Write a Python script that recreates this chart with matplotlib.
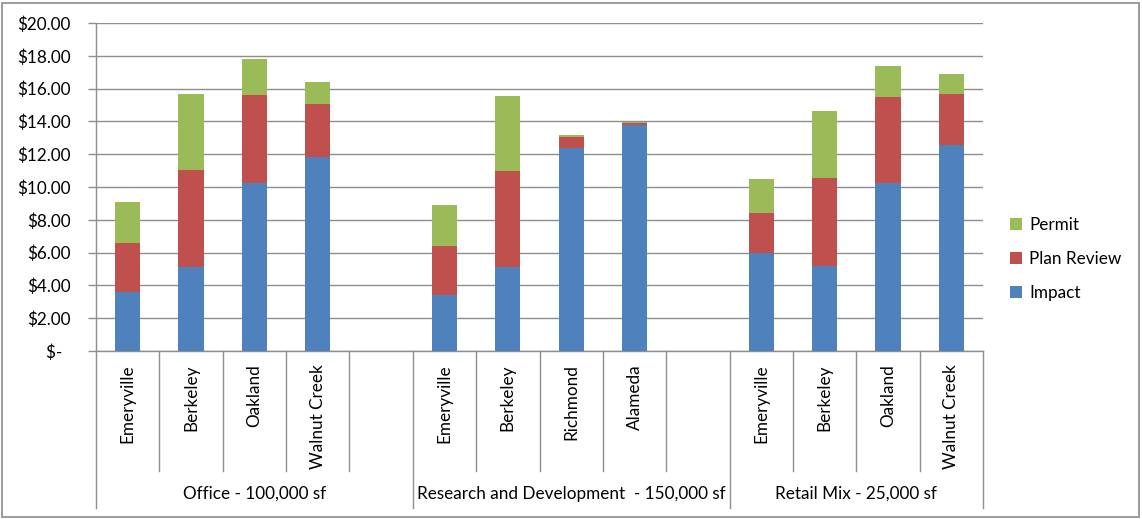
import numpy as np
import matplotlib
matplotlib.use("Agg")
import matplotlib.pyplot as plt
from matplotlib.patches import Rectangle, Patch
from matplotlib.ticker import FuncFormatter, MultipleLocator

plt.rcParams["font.family"] = ["Lato", "DejaVu Sans"]

# Development fee components ($ per square foot) by project type and city
groups = ["Office - 100,000 sf",
          "Research and Development  - 150,000 sf",
          "Retail Mix - 25,000 sf"]
office_cities = ["Emeryville", "Berkeley", "Oakland", "Walnut Creek"]
rd_cities = ["Emeryville", "Berkeley", "Richmond", "Alameda"]
retail_cities = ["Emeryville", "Berkeley", "Oakland", "Walnut Creek"]

office_impact = [3.60, 5.12, 10.24, 11.83]
office_plan = [3.00, 5.93, 5.39, 3.21]
office_permit = [2.50, 4.60, 2.19, 1.36]

rd_impact = [3.41, 5.12, 12.40, 13.76]
rd_plan = [2.97, 5.87, 0.62, 0.16]
rd_permit = [2.50, 4.56, 0.17, 0.04]

retail_impact = [5.98, 5.16, 10.24, 12.56]
retail_plan = [2.45, 5.39, 5.25, 3.09]
retail_permit = [2.06, 4.10, 1.86, 1.26]

series_names = ["Impact", "Plan Review", "Permit"]
colors = ["#4F81BD", "#C0504D", "#9BBB59"]

# Category slots: each group is followed by one empty slot, except the last
group_data = [
    (office_cities, office_impact, office_plan, office_permit, 5),
    (rd_cities, rd_impact, rd_plan, rd_permit, 5),
    (retail_cities, retail_impact, retail_plan, retail_permit, 4),
]
n_slots = sum(g[4] for g in group_data)

FS = 12.3

fig = plt.figure(figsize=(11.42, 5.19), dpi=100)
ax = fig.add_axes([96 / 1142, (519 - 351) / 519, (983 - 96) / 1142, 328 / 519])

grid_c = "#8E8E8E"
bar_w = 0.4
xt = ax.get_xaxis_transform()

start = 0
group_edges = [-0.5]
for (cities, imp, plan, perm, width), gname in zip(group_data, groups):
    x = np.arange(start, start + len(cities))
    imp = np.array(imp)
    plan = np.array(plan)
    perm = np.array(perm)
    ax.bar(x, imp, bar_w, color=colors[0], zorder=3)
    ax.bar(x, plan, bar_w, bottom=imp, color=colors[1], zorder=3)
    ax.bar(x, perm, bar_w, bottom=imp + plan, color=colors[2], zorder=3)
    for xi, c in zip(x, cities):
        ax.text(xi, -0.040, c, transform=xt, rotation=90, ha="center",
                va="top", fontsize=FS)
    ax.text(start + width / 2 - 0.5, -0.436, gname, transform=xt,
            ha="center", va="center", fontsize=FS)
    start += width
    group_edges.append(start - 0.5)

# Category separators below the axis
for e in np.arange(-0.5, n_slots, 1.0):
    depth = -0.4787 if any(np.isclose(e, g) for g in group_edges) else -0.366
    ax.plot([e, e], [0, depth], transform=xt, color=grid_c, lw=1.0,
            clip_on=False, zorder=2)

ax.set_xlim(-0.5, n_slots - 0.5)
ax.set_ylim(0, 20)
ax.yaxis.set_major_locator(MultipleLocator(2))
ax.yaxis.set_major_formatter(
    FuncFormatter(lambda v, p: "$-  " if v == 0 else f"${v:.2f}"))
ax.tick_params(axis="y", length=6, width=1, color=grid_c, pad=12,
               labelsize=FS)
ax.set_xticks([])
ax.grid(axis="y", color=grid_c, lw=1.0, zorder=0)
ax.set_axisbelow(True)
for s in ["top", "right"]:
    ax.spines[s].set_visible(False)
for s in ["left", "bottom"]:
    ax.spines[s].set_color(grid_c)
    ax.spines[s].set_linewidth(1.0)

handles = [Patch(facecolor=c, label=n) for c, n in zip(colors, series_names)]
fig.legend(handles=handles[::-1], loc="center left",
           bbox_to_anchor=(995 / 1142, (519 - 259) / 519), frameon=False,
           fontsize=FS, handlelength=0.7, handleheight=0.7,
           handletextpad=0.4, labelspacing=1.08)

fig.patches.append(Rectangle((2 / 1142, 2 / 519), 1137 / 1142, 514 / 519,
                             transform=fig.transFigure, fill=False,
                             edgecolor="#8C8C8C", lw=1.2))

fig.savefig("out.png", dpi=100, facecolor="white")
